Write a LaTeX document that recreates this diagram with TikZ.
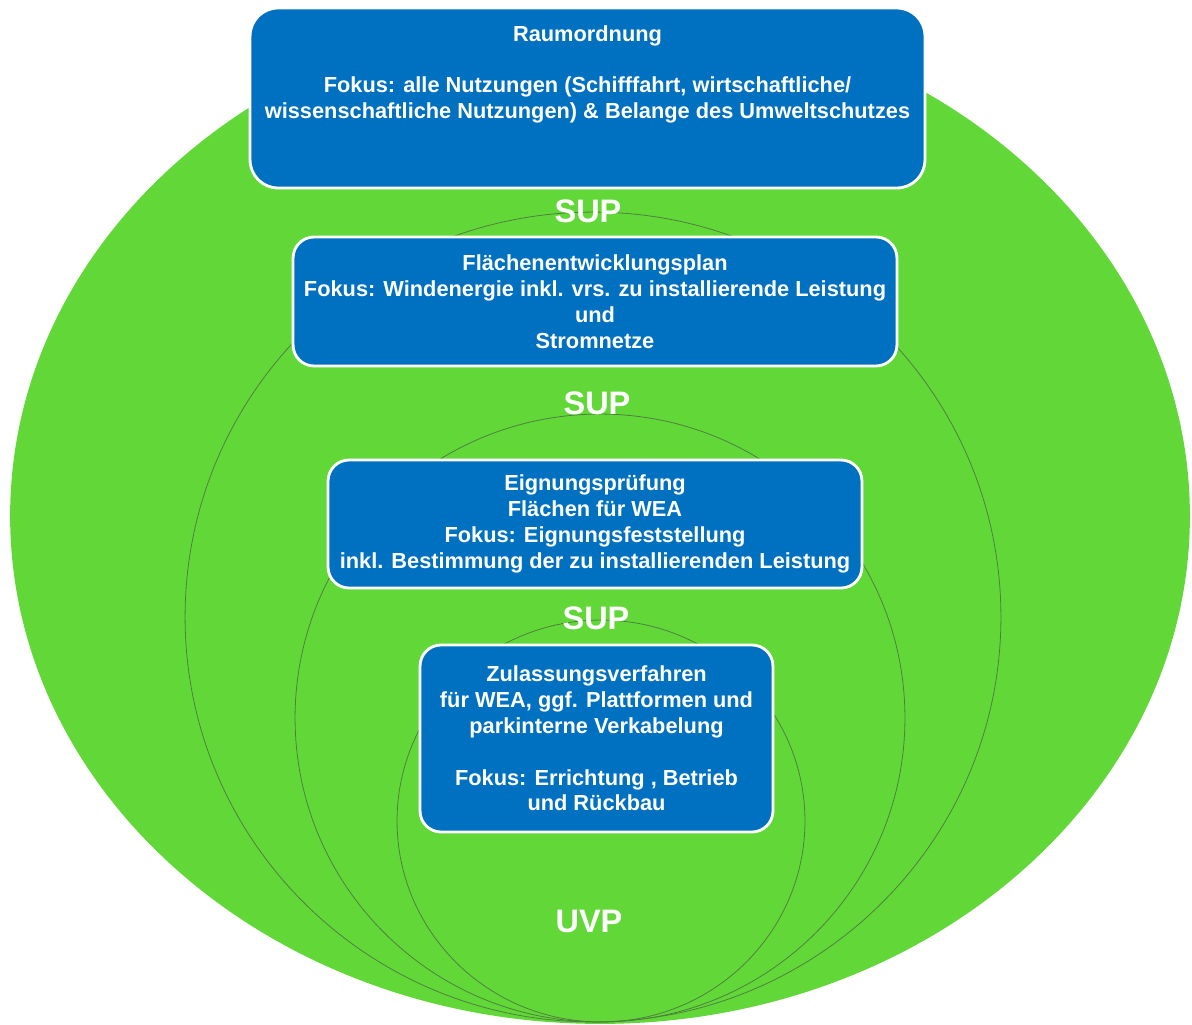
\documentclass[tikz,border=0pt]{standalone}
\usepackage{fontspec}
\setmainfont{Liberation Sans}
\definecolor{wiese}{HTML}{62D838}
\definecolor{kasten}{HTML}{0070C0}
\definecolor{ringlinie}{HTML}{4F7F40}
\tikzset{
  planbox/.style={draw=white, line width=1.6pt, fill=kasten, rounded corners=0.42cm,
    text=white, align=center, inner sep=0pt,
    font=\fontsize{12.4}{14.7}\selectfont\bfseries},
  pruef/.style={text=white, inner sep=0pt, font=\fontsize{18.5}{20}\selectfont\bfseries},
  ringstrich/.style={draw=ringlinie, line width=0.45pt}
}
\begin{document}
\begin{tikzpicture}[x=0.02cm,y=-0.02cm]
\useasboundingbox (0,0) rectangle (1192,1024);
	%Fläche
	\fill[wiese] (600,516) ellipse [x radius=11.8cm, y radius=10.16cm];
	%Ringe
	\draw[ringstrich] (593,617) ellipse [x radius=8.16cm, y radius=8.1cm];
	\draw[ringstrich] (600,718) ellipse [x radius=6.1cm, y radius=6.08cm];
	\draw[ringstrich] (601,821) ellipse [x radius=4.08cm, y radius=4.02cm];

	%Prüfungen
	\node[pruef] (sup1) at (588,211) {SUP};
	\node[pruef] (sup2) at (597,403) {SUP};
	\node[pruef] (sup3) at (596,618) {SUP};
	\node[pruef] (uvp) at (589,921) {UVP};

	%Kästen
	\node[planbox, rounded corners=0.56cm, minimum width=13.5cm, minimum height=3.6cm] (raum) at (587.5,98)
	  {Raumordnung\\ \mbox{}\\ Fokus: alle Nutzungen (Schifffahrt, wirtschaftliche/\\ wissenschaftliche Nutzungen) \& Belange des Umweltschutzes\\ \mbox{}\\ \mbox{}};
	\node[planbox, minimum width=12.08cm, minimum height=2.58cm] (fep) at (595,301.5)
	  {Flächenentwicklungsplan\\ Fokus: Windenergie inkl. vrs. zu installierende Leistung\\ und\\ Stromnetze};
	\node[planbox, minimum width=10.68cm, minimum height=2.56cm] (eignung) at (595,524)
	  {Eignungsprüfung\\ Flächen für WEA\\ Fokus: Eignungsfeststellung\\ inkl. Bestimmung der zu installierenden Leistung};
	\node[planbox, minimum width=7.06cm, minimum height=3.74cm] (zulassung) at (596.5,738.5)
	  {Zulassungsverfahren\\ für WEA, ggf. Plattformen und\\ parkinterne Verkabelung\\ \mbox{}\\ Fokus: Errichtung , Betrieb\\ und Rückbau};
\end{tikzpicture}
\end{document}
